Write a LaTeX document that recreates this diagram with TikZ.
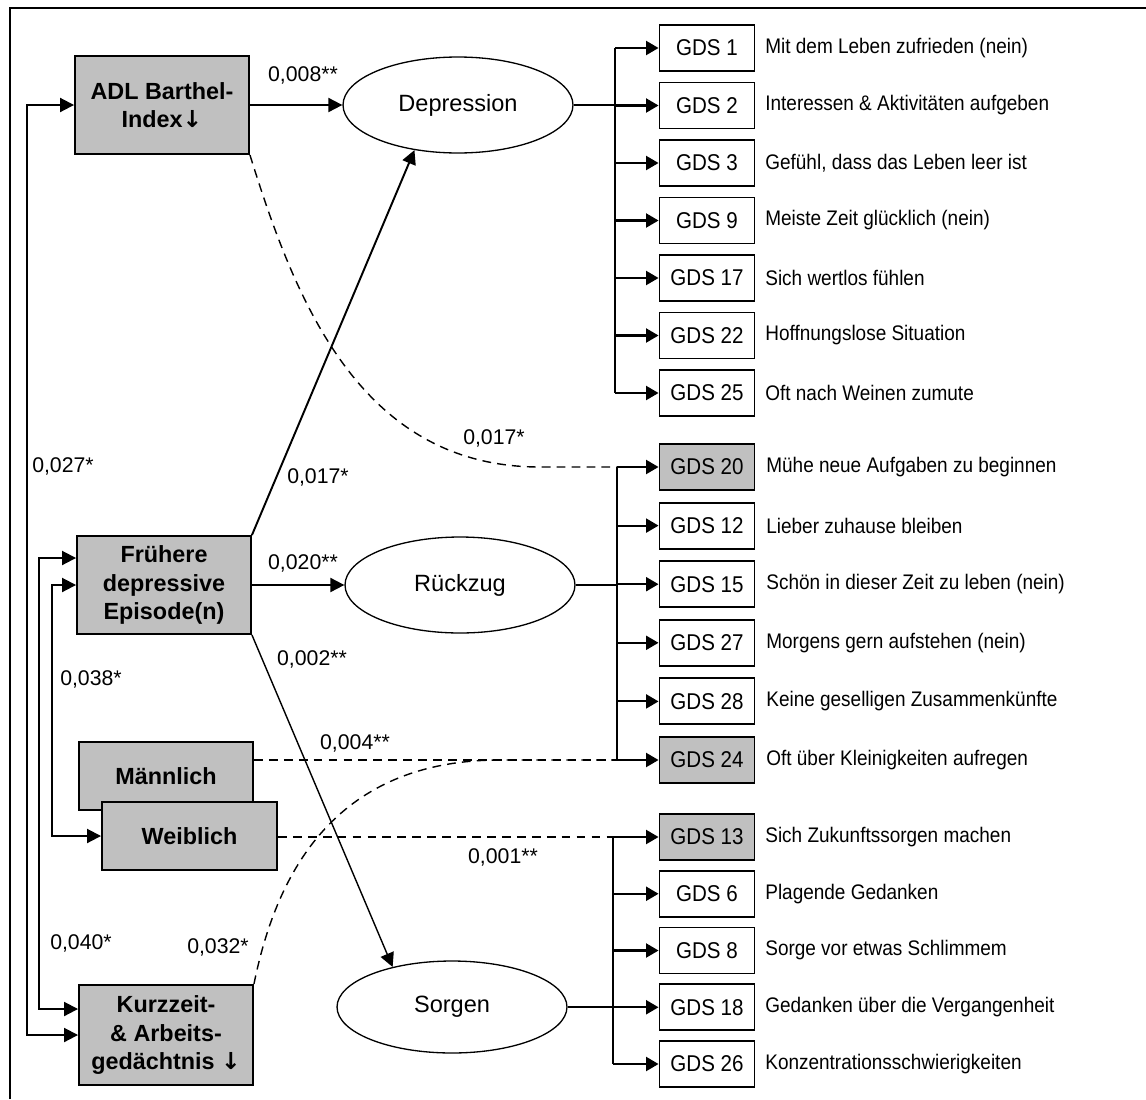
\documentclass[tikz,border=0pt]{standalone}
\usepackage{fontspec}
\setmainfont{Liberation Sans}
\newfontfamily\condsans{Liberation Sans}[FakeStretch=0.9]
\newfontfamily\arrowglyph{DejaVu Sans}
\newcommand{\downarr}{{\arrowglyph\bfseries ↓}}
\usetikzlibrary{arrows.meta,calc,shapes.geometric}
\definecolor{boxgrey}{RGB}{192,192,192}

\begin{document}
\begin{tikzpicture}[x=0.02cm,y=-0.02cm,
  var/.style={draw, line width=1.1pt, fill=boxgrey, inner sep=0pt, align=center,
    minimum width=3.48cm, font=\fontsize{13.3}{16.2}\selectfont\bfseries},
  latent/.style={ellipse, draw, line width=0.75pt, inner sep=0pt,
    minimum width=4.6cm, minimum height=1.92cm, font=\fontsize{13.4}{16}\selectfont},
  item/.style={draw, line width=1.1pt, inner sep=0pt, minimum width=1.9cm,
    minimum height=0.92cm, font=\condsans\fontsize{13}{15}\selectfont},
  itemgrey/.style={item, fill=boxgrey},
  desc/.style={anchor=west, inner sep=0pt, font=\condsans\fontsize{12}{14}\selectfont},
  coef/.style={inner sep=0pt, font=\fontsize{12.1}{14}\selectfont},
  effect/.style={line width=1.1pt, -{Triangle[length=0.28cm,width=0.28cm]}},
  corr/.style={line width=1.1pt,
    {Triangle[length=0.28cm,width=0.28cm]}-{Triangle[length=0.28cm,width=0.28cm]}},
  bus/.style={line width=1.2pt},
  load/.style={line width=1.2pt, -{Triangle[length=0.25cm,width=0.28cm]}},
  dashlink/.style={line width=0.8pt, dash pattern=on 5pt off 3.5pt},
]
\useasboundingbox (0,0) rectangle (1146,1099);

% outer frame
\draw[line width=1.1pt] (10,1099) -- (10,8) -- (1146,8);

% observed predictors
\node[var, minimum height=1.96cm] (adl) at (162,105) {ADL Barthel-\\Index\downarr};
\node[var, minimum height=1.96cm] (fr) at (164,585) {Frühere\\depressive\\Episode(n)};
\node[var, minimum height=1.36cm] (mann) at (166,776) {Männlich};
\node[var, minimum height=1.36cm, minimum width=3.5cm] (wb) at (189.5,836) {Weiblich};
\node[var, minimum height=2cm] (kz) at (166,1035) {Kurzzeit-\\\& Arbeits-\\gedächtnis \downarr};

% latent factors
\node[latent] (dep) at (458,105) {Depression};
\node[latent] (rz) at (460,585) {Rückzug};
\node[latent, minimum height=1.84cm] (sor) at (452,1007) {Sorgen};

% bus positions
\coordinate (bt) at (615,0);
\coordinate (bm) at (617,0);
\coordinate (bb) at (613,0);
\coordinate (xa) at (27,0);
\coordinate (xb) at (39,0);
\coordinate (xc) at (52,0);

% items: Depression
\foreach \n/\y/\g/\t in {
  t1/48/GDS 1/Mit dem Leben zufrieden (nein),
  t2/105.5/GDS 2/Interessen \& Aktivitäten aufgeben,
  t3/163/GDS 3/{Gefühl, dass das Leben leer ist},
  t4/220.5/GDS 9/Meiste Zeit glücklich (nein),
  t5/278/GDS 17/Sich wertlos fühlen,
  t6/335.5/GDS 22/Hoffnungslose Situation,
  t7/393/GDS 25/Oft nach Weinen zumute}{
  \node[item] (\n) at (707,\y) {\g};
  \node[desc] (\n d) at (765,\y) {\t};
  \draw[load] (\n.west -| bt) -- (\n.west);
}
\draw[bus] (t1.west -| bt) -- (t7.west -| bt);
\draw[bus] (dep.east) -- (dep.east -| bt);

% items: Rückzug
\foreach \n/\y/\s/\g/\t in {
  m1/467/itemgrey/GDS 20/Mühe neue Aufgaben zu beginnen,
  m2/525.6/item/GDS 12/Lieber zuhause bleiben,
  m3/584.2/item/GDS 15/Schön in dieser Zeit zu leben (nein),
  m4/642.8/item/GDS 27/Morgens gern aufstehen (nein),
  m5/701.4/item/GDS 28/Keine geselligen Zusammenkünfte,
  m6/760/itemgrey/GDS 24/Oft über Kleinigkeiten aufregen}{
  \node[\s] (\n) at (707,\y) {\g};
  \node[desc] (\n d) at (766,\y) {\t};
  \draw[load] (\n.west -| bm) -- (\n.west);
}
\draw[bus] (m1.west -| bm) -- (m6.west -| bm);
\draw[bus] (rz.east) -- (rz.east -| bm);

% items: Sorgen
\foreach \n/\y/\s/\g/\t in {
  b1/837/itemgrey/GDS 13/Sich Zukunftssorgen machen,
  b2/893.75/item/GDS 6/Plagende Gedanken,
  b3/950.5/item/GDS 8/Sorge vor etwas Schlimmem,
  b4/1007.25/item/GDS 18/Gedanken über die Vergangenheit,
  b5/1064/item/GDS 26/Konzentrationsschwierigkeiten}{
  \node[\s] (\n) at (707,\y) {\g};
  \node[desc] (\n d) at (765,\y) {\t};
  \draw[load] (\n.west -| bb) -- (\n.west);
}
\draw[bus] (b1.west -| bb) -- (b5.west -| bb);
\draw[bus] (sor.east) -- (sor.east -| bb);

% structural paths
\draw[effect] (adl.east) -- (dep.west);
\draw[effect] (fr.north east) -- (dep.226);
\draw[effect] (fr.east) -- (rz.west);
\draw[effect, line width=0.8pt] (fr.south east) -- (sor.146);

% correlations between predictors
\draw[corr] (adl.west) -- (adl.west -| xa) |- (kz.west);
\draw[corr] ($(fr.west)+(0,-27)$) -- ($(fr.west -| xb)+(0,-27)$) |- ($(kz.west)+(0,-26)$);
\draw[corr] (fr.west) -- (fr.west -| xc) |- (wb.west);

% direct effects on single items
\draw[dashlink] (adl.south east) .. controls (295,300) and (360,467) .. (540,467) -- (m1.west -| bm);
\draw[dashlink] (m6.west -| mann.east) -- (m6.west -| bm);
\draw[dashlink, line width=1pt] (b1.west -| wb.east) -- (b1.west -| bb);
\draw[dashlink] (kz.north east) .. controls (275,880) and (330,760) .. (500,760) -- (m6.west -| bm);

% redraw overlapping predictor boxes on top
\node[var, minimum height=1.36cm] at (mann) {Männlich};
\node[var, minimum height=1.36cm, minimum width=3.5cm] at (wb) {Weiblich};

% coefficients
\node[coef] (c1) at (303,75) {0,008**};
\node[coef] (c2) at (318,477) {0,017*};
\node[coef] (c3) at (303,563) {0,020**};
\node[coef] (c4) at (312,659) {0,002**};
\node[coef] (c5) at (494,438) {0,017*};
\node[coef] (c6) at (355,743) {0,004**};
\node[coef] (c7) at (503,857) {0,001**};
\node[coef] (c8) at (63,466) {0,027*};
\node[coef] (c9) at (91,679) {0,038*};
\node[coef] (c10) at (81,943) {0,040*};
\node[coef] (c11) at (218,947) {0,032*};
\end{tikzpicture}
\end{document}
